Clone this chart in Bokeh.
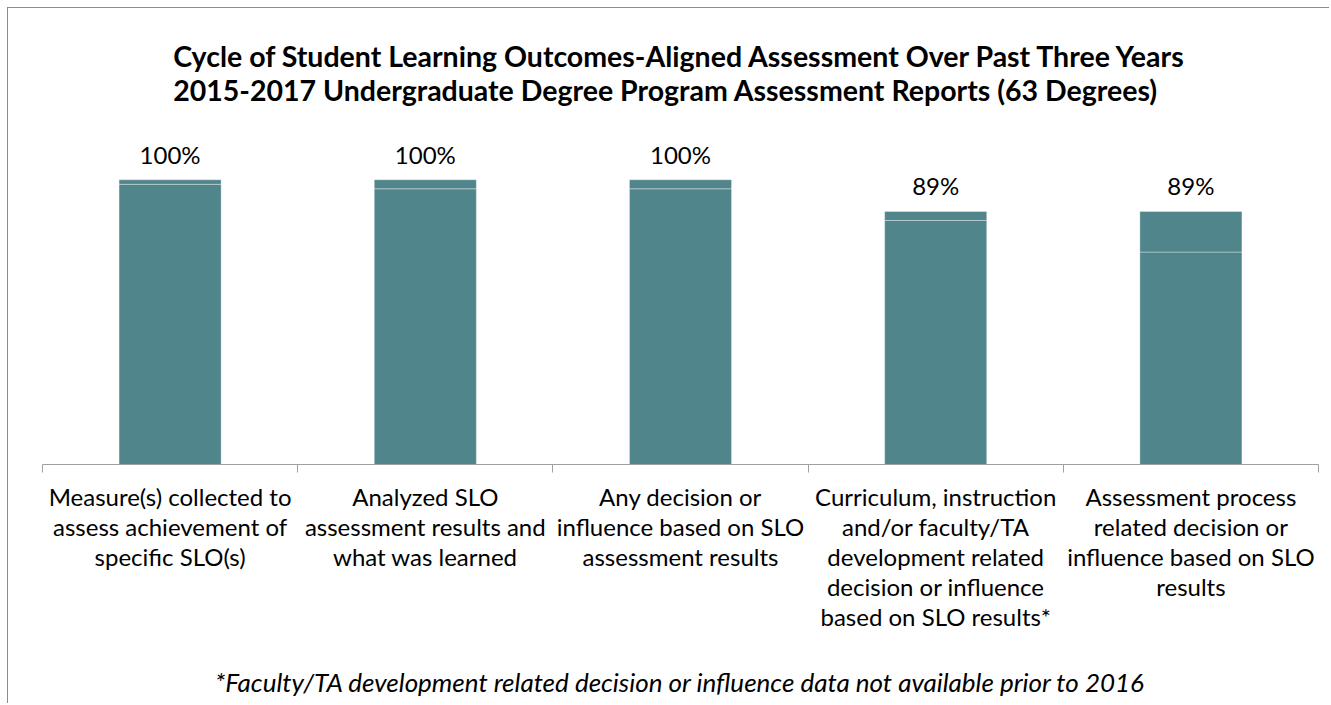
from bokeh.plotting import figure
from bokeh.models import FixedTicker, Title, LinearAxis, ColumnDataSource, LabelSet, Range1d
from bokeh.core.properties import value
from bokeh.embed import file_html
from bokeh.resources import INLINE

# ---- data ----
categories = [
    "Measure(s) collected to\nassess achievement of\nspecific SLO(s)",
    "Analyzed SLO\nassessment results and\nwhat was learned",
    "Any decision or\ninfluence based on SLO\nassessment results",
    "Curriculum, instruction\nand/or faculty/TA\ndevelopment related\ndecision or influence\nbased on SLO results*",
    "Assessment process\nrelated decision or\ninfluence based on SLO\nresults",
]
total_degrees = 63
base_counts = [62, 61, 61, 54, 47]
added_counts = [1, 2, 2, 2, 9]
value_labels = ["100%", "100%", "100%", "89%", "89%"]

title_line1 = "Cycle of Student Learning Outcomes-Aligned Assessment Over Past Three Years"
title_line2 = "2015-2017 Undergraduate Degree Program Assessment Reports (63 Degrees)"
footnote = "*Faculty/TA development related decision or influence data not available prior to 2016"

# ---- derived ----
xs = [i + 0.5 for i in range(len(categories))]
base_pct = [c / total_degrees * 100 for c in base_counts]
top_pct = [(b + a) / total_degrees * 100 for b, a in zip(base_counts, added_counts)]

src = ColumnDataSource(dict(x=xs, base=base_pct, top=top_pct, lab=value_labels))

BAR = "#50858C"
FONT = "Lato"

p = figure(width=1322, height=696, output_backend="svg", toolbar_location=None,
           x_range=Range1d(0, len(categories)), y_range=Range1d(0, 118),
           min_border_left=34, min_border_right=12, min_border_top=120,
           min_border_bottom=240,
           x_axis_location=None, y_axis_location=None)
p.outline_line_color = None
p.grid.visible = False
p.background_fill_color = "white"
p.border_fill_color = "white"
p.styles = {"margin-left": "7px", "margin-top": "7px",
            "border-left": "1px solid #8c8c8c", "border-top": "1px solid #8c8c8c"}

p.vbar(x="x", width=0.4, bottom=0, top="base", source=src,
       fill_color=BAR, line_color="white", line_alpha=0.35, line_width=1)
p.vbar(x="x", width=0.4, bottom="base", top="top", source=src,
       fill_color=BAR, line_color="white", line_alpha=0.35, line_width=1)

labels = LabelSet(x="x", y="top", text="lab", source=src, text_align="center",
                  text_baseline="bottom", y_offset=11, text_font=value(FONT),
                  text_font_size="24px", text_color="#000000")
p.add_layout(labels)

xaxis = LinearAxis(ticker=FixedTicker(ticks=xs, minor_ticks=list(range(len(categories) + 1))),
                   major_label_overrides={x: c for x, c in zip(xs, categories)})
xaxis.axis_line_color = "#a0a0a0"
xaxis.axis_line_width = 1
xaxis.major_tick_out = 0
xaxis.major_tick_in = 0
xaxis.minor_tick_out = 8
xaxis.minor_tick_in = 0
xaxis.minor_tick_line_color = "#a0a0a0"
xaxis.major_label_text_font = FONT
xaxis.major_label_text_font_size = "24px"
xaxis.major_label_text_color = "#000000"
xaxis.major_label_standoff = 9
xaxis.major_label_text_line_height = 1.04
# footnote carried by the axis label, placed under the category labels
xaxis.axis_label = footnote
xaxis.axis_label_text_font = FONT
xaxis.axis_label_text_font_style = "italic"
xaxis.axis_label_text_font_size = "26px"
xaxis.axis_label_text_color = "#000000"
xaxis.axis_label_standoff = 32
p.add_layout(xaxis, "below")

p.title = Title(text=title_line1 + "\n" + title_line2, align="center", text_font=FONT,
                text_font_style="bold", text_font_size="28.5px", text_color="#000000",
                standoff=43, text_line_height=0.99)

open("out.html", "w").write(file_html(p, INLINE))
